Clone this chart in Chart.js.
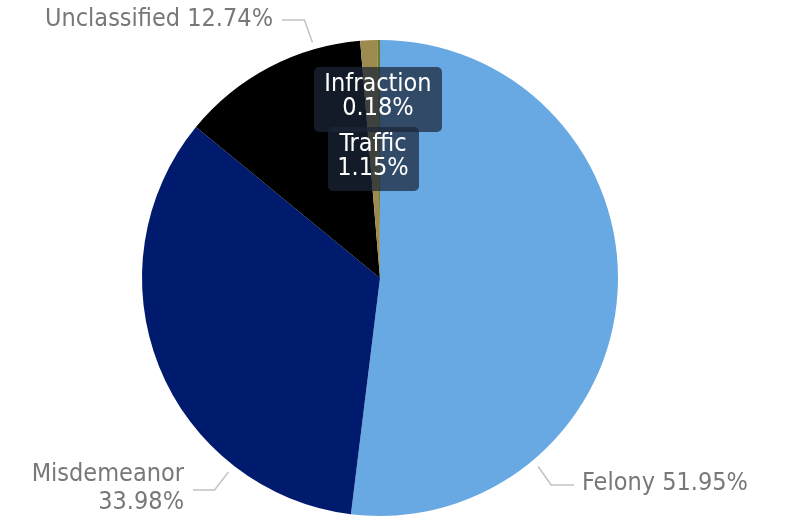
<!DOCTYPE html>
<html>
<head>
<meta charset="utf-8">
<script src="https://cdn.jsdelivr.net/npm/chart.js@4"></script>
<style>
  html, body { margin: 0; padding: 0; background: #fff; }
  #wrap { width: 788px; height: 517px; }
</style>
</head>
<body>
<div id="wrap"><canvas id="chartOne" width="788" height="517"></canvas></div>
<script>
// chart data
const categories = ["Felony", "Misdemeanor", "Unclassified", "Traffic", "Infraction"];
const shares = [51.95, 33.98, 12.74, 1.15, 0.18];
const sliceColors = ["#68a9e3", "#001a6e", "#000000", "#9c8a4e", "#6b7a2c"];

const FONT = "25px 'DejaVu Sans Condensed', Roboto, sans-serif";

function pct(i) {
  return shares[i].toFixed(2) + "%";
}

// labels drawn by hand, power bi style
const labelPlugin = {
  id: "sliceLabels",
  afterDatasetsDraw(chart) {
    const ctx = chart.ctx;
    const arcs = chart.getDatasetMeta(0).data;
    const cx = arcs[0].x, cy = arcs[0].y, r = arcs[0].outerRadius;

    // point on the rim, angle measured clockwise from 12 o'clock
    function rim(deg, extra) {
      const a = deg * Math.PI / 180;
      return [cx + (r + extra) * Math.sin(a), cy - (r + extra) * Math.cos(a)];
    }

    ctx.save();
    ctx.font = FONT;
    ctx.textBaseline = "middle";
    ctx.strokeStyle = "#c2c2c2";
    ctx.lineWidth = 1.5;

    // Unclassified, upper left
    let p = rim(344, 7);
    ctx.beginPath();
    ctx.moveTo(p[0], p[1]);
    ctx.lineTo(p[0] - 8, 20);
    ctx.lineTo(282, 20);
    ctx.stroke();
    ctx.fillStyle = "#787878";
    ctx.textAlign = "right";
    ctx.fillText(categories[2] + " " + pct(2), 273, 19);

    // Felony, lower right
    p = rim(140, 8);
    ctx.beginPath();
    ctx.moveTo(p[0], p[1]);
    ctx.lineTo(p[0] + 13, 485);
    ctx.lineTo(574, 485);
    ctx.stroke();
    ctx.textAlign = "left";
    ctx.fillText(categories[0] + " " + pct(0), 582, 483);

    // Misdemeanor, lower left
    p = rim(218, 8);
    ctx.beginPath();
    ctx.moveTo(p[0], p[1]);
    ctx.lineTo(p[0] - 14, 490);
    ctx.lineTo(193, 490);
    ctx.stroke();
    ctx.textAlign = "right";
    ctx.fillText(categories[1], 184, 474);
    ctx.fillText(pct(1), 184, 502);

    // small slices get boxed labels inside the pie
    function box(x, y, w, h) {
      ctx.fillStyle = "rgba(28, 38, 56, 0.72)";
      ctx.beginPath();
      ctx.roundRect(x, y, w, h, 5);
      ctx.fill();
    }
    box(314, 67, 128, 65);
    box(328, 127, 91, 64);
    ctx.fillStyle = "#ffffff";
    ctx.textAlign = "center";
    ctx.fillText(categories[4], 378, 84);
    ctx.fillText(pct(4), 378, 108);
    ctx.fillText(categories[3], 373, 144);
    ctx.fillText(pct(3), 373, 168);

    ctx.restore();
  }
};

new Chart(document.getElementById("chartOne").getContext("2d"), {
  type: "pie",
  data: {
    labels: categories,
    datasets: [{
      data: shares,
      backgroundColor: sliceColors,
      borderWidth: 0
    }]
  },
  options: {
    responsive: false,
    animation: false,
    layout: { padding: { left: 142, right: 170, top: 40, bottom: 1 } },
    plugins: {
      legend: { display: false },
      tooltip: { enabled: false }
    }
  },
  plugins: [labelPlugin]
});
</script>
</body>
</html>
